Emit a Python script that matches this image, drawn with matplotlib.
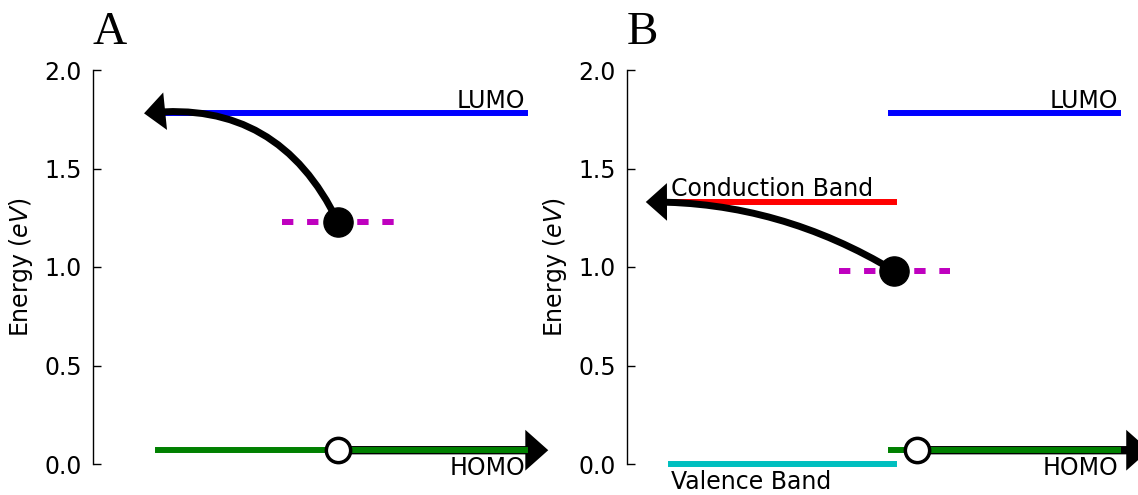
import matplotlib
matplotlib.use('Agg')
import matplotlib.pyplot as plt
from matplotlib.patches import FancyArrowPatch, ArrowStyle

# energy levels in eV
lumo = 1.78
homo = 0.07
dye_a = 1.23          # excited state, panel A
conduction = 1.33
valence = 0.0
dye_b = 0.98          # excited state, panel B

# horizontal extents of the levels (arbitrary x units)
mol_a_x = [0.0, 1.0]
semi_x = [0.0, 0.5]
mol_b_x = [0.5, 1.0]

# electron / hole positions and arrow end points
elec_a_x, hole_a_x = 0.49, 0.49
elec_b_x, hole_b_x = 0.5, 0.551
trap_half_a, trap_half_b = 0.153, 0.124
lumo_tip_a = -0.038
cb_tip_b = -0.056
homo_tip_a = 1.063
homo_tip_b = 1.07

yticks = [0.0, 0.5, 1.0, 1.5, 2.0]

W, H = 1138, 495
fig = plt.figure(figsize=(W / 100, H / 100), dpi=100)
axA = fig.add_axes([93 / W, 31 / H, 467 / W, 394 / H])
axB = fig.add_axes([627 / W, 31 / H, 511 / W, 394 / H])
axA.set_xlim(-0.177, 1.095)
axB.set_xlim(-0.098, 1.045)

LW = 4.3
head = ArrowStyle('-|>', head_length=0.45, head_width=0.4)


def style(ax, letter):
    for s in ['top', 'right', 'bottom']:
        ax.spines[s].set_visible(False)
    ax.spines['left'].set_linewidth(1.0)
    ax.set_ylim(0, 2.0)
    ax.set_yticks(yticks)
    ax.set_yticklabels([f'{v:.1f}' for v in yticks])
    ax.set_xticks([])
    ax.tick_params(axis='y', direction='in', length=6, width=1, pad=8,
                   labelsize=17, right=False)
    ax.set_ylabel('Energy ($eV$)', fontsize=17, labelpad=7)
    ax.text(0, 1.066, letter, transform=ax.transAxes, fontsize=34,
            family='Liberation Serif', ha='left', va='baseline')


def level(ax, xs, y, color, z=2):
    ax.plot(xs, [y, y], color=color, lw=LW, clip_on=False, zorder=z,
            solid_capstyle='projecting')


def label(ax, x, y, txt, ha, above):
    ax.annotate(txt, (x, y), xytext=(0, 4 if above else -18),
                textcoords='offset points', ha=ha, va='baseline',
                fontsize=17, annotation_clip=False)


def arrow(ax, p0, p1, rad, lw, z=4):
    a = FancyArrowPatch(p0, p1, arrowstyle=head, mutation_scale=20, lw=lw,
                        color='k', connectionstyle=f'arc3,rad={rad}',
                        shrinkA=0, shrinkB=0, zorder=z, clip_on=False,
                        joinstyle='miter', capstyle='butt')
    ax.add_patch(a)


def trap(ax, x, half, y):
    ax.plot([x - half, x + half], [y, y], color='#bf00bf', lw=LW,
            ls=(0, (1.9, 2.3)), clip_on=False, zorder=3)


# ---- panel A: molecule
style(axA, 'A')
level(axA, mol_a_x, lumo, '#0000ff')
level(axA, mol_a_x, homo, '#008000', z=3)
trap(axA, elec_a_x, trap_half_a, dye_a)
arrow(axA, (elec_a_x, dye_a), (lumo_tip_a, lumo), 0.35, 5)
arrow(axA, (hole_a_x, homo), (homo_tip_a, homo), 0, 6, z=2)
axA.plot(elec_a_x, dye_a, 'o', color='k', ms=21, zorder=6, clip_on=False)
axA.plot(hole_a_x, homo, 'o', mfc='white', mec='k', ms=17.5, mew=2.5,
         zorder=6, clip_on=False)
label(axA, mol_a_x[1], lumo, 'LUMO', 'right', True)
label(axA, mol_a_x[1], homo, 'HOMO', 'right', False)

# ---- panel B: semiconductor + molecule
style(axB, 'B')
level(axB, semi_x, conduction, '#ff0000')
level(axB, semi_x, valence, '#00bfbf')
level(axB, [mol_b_x[0] - 0.007, mol_b_x[1]], lumo, '#0000ff')
level(axB, [mol_b_x[0] - 0.007, mol_b_x[1]], homo, '#008000', z=3)
trap(axB, elec_b_x, trap_half_b, dye_b)
arrow(axB, (elec_b_x, dye_b), (cb_tip_b, conduction), 0.14, 5)
arrow(axB, (hole_b_x, homo), (homo_tip_b, homo), 0, 6, z=2)
axB.plot(elec_b_x, dye_b, 'o', color='k', ms=21, zorder=6, clip_on=False)
axB.plot(hole_b_x, homo, 'o', mfc='white', mec='k', ms=17.5, mew=2.5,
         zorder=6, clip_on=False)
label(axB, semi_x[0], conduction, 'Conduction Band', 'left', True)
label(axB, semi_x[0], valence, 'Valence Band', 'left', False)
label(axB, mol_b_x[1], lumo, 'LUMO', 'right', True)
label(axB, mol_b_x[1], homo, 'HOMO', 'right', False)

fig.savefig('out.png', dpi=100)
